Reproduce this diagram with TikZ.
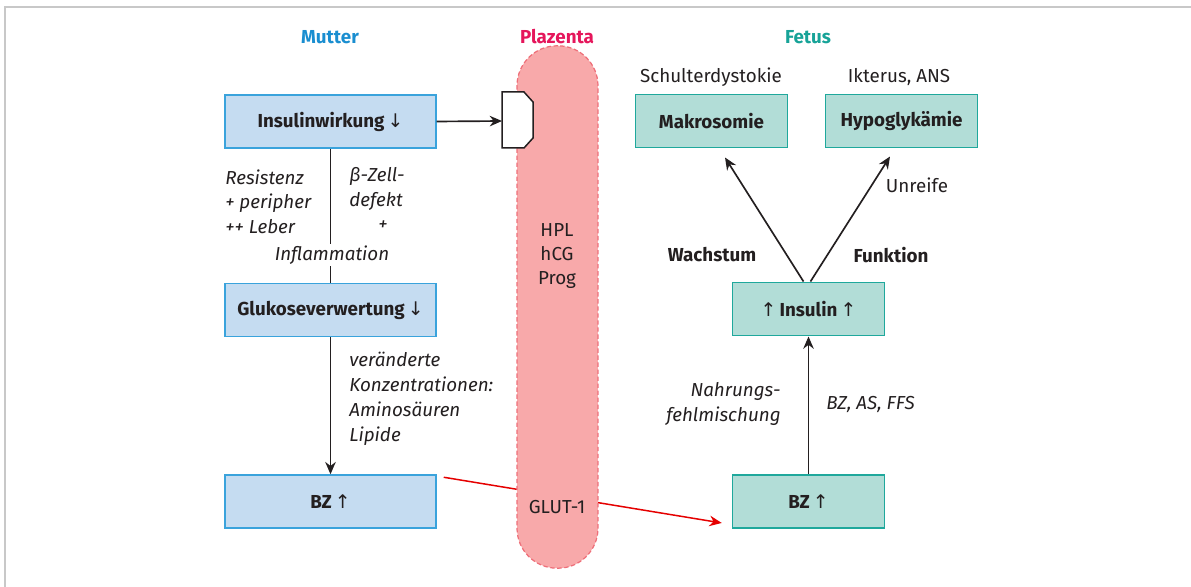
\documentclass[tikz,border=0pt]{standalone}
\usepackage{fontspec}
\setmainfont{Fira Sans}
\newfontfamily\arrowfont{DejaVu Sans}
\usetikzlibrary{arrows.meta,calc}
\definecolor{mfill}{HTML}{C5DCF1}
\definecolor{mline}{HTML}{3AA3DC}
\definecolor{tfill}{HTML}{B2DDD7}
\definecolor{tline}{HTML}{1FA89C}
\definecolor{pfill}{HTML}{F8A9AA}
\definecolor{pline}{HTML}{EE6F79}
\definecolor{hblue}{HTML}{1A8ED0}
\definecolor{hpink}{HTML}{E5165B}
\definecolor{hteal}{HTML}{17A398}
\definecolor{txt}{HTML}{231F20}
\definecolor{framec}{HTML}{C8C8C8}
\newcommand{\dn}{{\mdseries\arrowfont\char"2193}}
\newcommand{\up}{{\mdseries\arrowfont\char"2191}}
\begin{document}
\begin{tikzpicture}[x=0.02cm,y=-0.02cm,
  font=\fontsize{10.7}{12}\selectfont, text=txt,
  mbox/.style={draw=mline, fill=mfill, line width=0.85pt, minimum width=4.22cm, minimum height=1.06cm, font=\fontsize{10.7}{12}\selectfont\bfseries},
  tbox/.style={draw=tline, fill=tfill, line width=0.85pt, minimum width=3.04cm, minimum height=1.07cm, font=\fontsize{10.7}{12}\selectfont\bfseries},
  head/.style={font=\fontsize{10.7}{12}\selectfont\bfseries},
  lbl/.style={font=\fontsize{10.7}{12}\selectfont},
  ilbl/.style={font=\fontsize{10.7}{13.9}\selectfont\itshape},
  blbl/.style={font=\fontsize{10.7}{12}\selectfont\bfseries},
  conn/.style={draw=txt, line width=0.95pt},
  arr/.style={conn, -{Stealth[length=7pt,width=6pt]}},
]
\useasboundingbox (0,0) rectangle (1191,587);
\draw[framec, line width=1.2pt] (5,587) -- (5,7) -- (1191,7);

% mother boxes
\node[mbox] (insw) at (330.5,121.5) {Insulinwirkung\,\dn};
\node[mbox] (gluk) at (330.5,310) {Glukoseverwertung\,\dn};
\node[mbox] (bzl) at (330.5,501.5) {BZ\,\up};

% fetus boxes
\node[tbox] (mak) at (711.5,121) {Makrosomie};
\node[tbox] (hyp) at (901.5,121) {Hypoglykämie};
\node[tbox] (insu) at (808.5,309) {\up\,Insulin\,\up};
\node[tbox] (bzr) at (808.5,501.5) {BZ\,\up};

% red arrow (behind placenta)
\draw[red!90!black, line width=0.85pt, -{Stealth[length=7pt,width=6pt]}]
  ($(bzl.north east)+(7,3)$) -- ($(bzr.south west)+(-10,-6)$);

% placenta
\node[draw=pline, fill=pfill, dash pattern=on 2.5pt off 1.5pt, line width=0.7pt,
  rounded corners=0.8cm, minimum width=1.62cm, minimum height=10.45cm] (plac) at (557.5,307) {};
\node[lbl, align=center, font=\fontsize{10.7}{13.7}\selectfont] (horm) at (557,256) {HPL\\hCG\\Prog};
\node[lbl] (glut) at (557,507) {GLUT-1};

% headers
\node[head, text=hblue] (hm) at (330,37) {Mutter};
\node[head, text=hpink] (hp) at (557,37) {Plazenta};
\node[head, text=hteal] (hf) at (808,37) {Fetus};

% receptor
\draw[draw=txt, fill=white, line width=0.85pt] (502,92) -- (524,92) -- (533,102) -- (533,138) -- (524,148) -- (502,148) -- cycle;
\coordinate (rec) at (502,121);
\draw[arr] (insw.east) -- (rec);

% mother connectors
\draw[conn] (insw.south) -- (gluk.north);
\node[ilbl, fill=white, inner sep=1pt] (infl) at (332,255) {Inflammation};
\node[ilbl, align=left, anchor=west, inner xsep=0pt] (resi) at (225,201.5) {Resistenz\\+ peripher\\++ Leber};
\node[ilbl, align=left, anchor=west, inner xsep=0pt] (beta) at (349,189) {β-Zell-\\defekt};
\node[ilbl] (plus) at (383,226) {+};
\draw[arr] (gluk.south) -- (bzl.north);
\node[ilbl, align=left, anchor=west, inner xsep=0pt, font=\fontsize{10.7}{14.3}\selectfont\itshape] (konz) at (349,399) {veränderte\\Konzentrationen:\\Aminosäuren\\Lipide};

% fetus connectors
\draw[arr] (bzr.north) -- (insu.south);
\node[ilbl, align=right, anchor=east, inner xsep=0pt] (nahr) at (781,404) {Nahrungs-\\fehlmischung};
\node[ilbl, anchor=west, inner xsep=0pt] (bzas) at (826,404) {BZ, AS, FFS};
\draw[arr] ($(insu.north)+(-5,0)$) -- ($(mak.south)+(13.5,9)$);
\draw[arr] ($(insu.north)+(2,0)$) -- ($(hyp.south)+(-11.5,8)$);
\node[blbl] (wach) at (712,255) {Wachstum};
\node[blbl] (funk) at (891,255) {Funktion};
\node[lbl] (unr) at (917,185) {Unreife};
\node[lbl] (schu) at (711,77) {Schulterdystokie};
\node[lbl] (ikt) at (899,77) {Ikterus, ANS};
\end{tikzpicture}
\end{document}
